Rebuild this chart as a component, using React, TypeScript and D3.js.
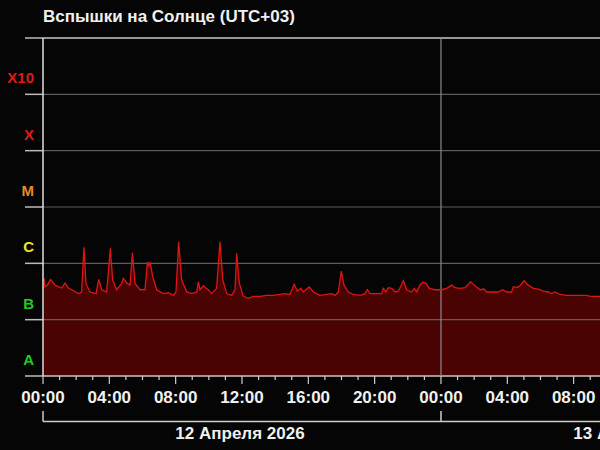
import * as d3 from "d3";
import { useEffect, useRef } from "react";

// hours since 00:00, 12 April 2026 (UTC+03)
const hours = [
  0.06, 0.12, 0.26, 0.46, 0.72, 1.13, 1.33, 1.53, 1.83, 2.13, 2.33, 2.47, 2.59, 2.83, 3.2, 3.36, 3.54, 3.84,
  4.06, 4.2, 4.44, 4.75, 4.84, 5.08, 5.25, 5.39, 5.55, 5.85, 6.15, 6.3, 6.38, 6.45, 6.62, 6.86, 7.25, 7.56,
  7.86, 8.02, 8.18, 8.36, 8.67, 8.97, 9.27, 9.37, 9.47, 9.67, 9.83, 9.97, 10.17, 10.47, 10.67, 10.84, 11.08,
  11.38, 11.58, 11.68, 11.84, 12.08, 12.38, 12.68, 13.09, 13.49, 13.89, 14.29, 14.59, 14.89, 15.15, 15.34,
  15.54, 15.7, 15.84, 16.06, 16.3, 16.7, 17.11, 17.41, 17.61, 17.81, 17.99, 18.15, 18.41, 18.71, 19.12,
  19.42, 19.56, 19.72, 20.12, 20.42, 20.52, 20.68, 20.82, 21.03, 21.23, 21.43, 21.73, 21.93, 22.23, 22.39,
  22.54, 22.73, 22.9, 23.1, 23.29, 23.64, 24.04, 24.34, 24.65, 24.85, 25.15, 25.45, 25.79, 26.05, 26.35,
  26.59, 26.76, 27.15, 27.46, 27.72, 27.96, 28.26, 28.36, 28.57, 28.76, 29.02, 29.26, 29.57, 29.87, 30.17,
  30.47, 30.67, 30.87, 31.18, 31.58, 31.98, 32.38, 32.79, 32.99, 33.59,
];

// X-ray flux, in units of 1e-7 W/m² (B-class)
const fluxB = [
  5.4, 3.8, 4.1, 5.2, 4.1, 3.65, 4.5, 3.65, 3.3, 2.9, 3.1, 19.3, 4.4, 3.1, 2.9, 5.2, 3.4, 3.1,
  18.5, 5.1, 3.4, 4.4, 5.4, 4.4, 4.1, 15.4, 4.4, 3.4, 3.4, 10.5, 9.0, 10.6, 5.8, 3.4, 2.9, 3.0,
  2.7, 3.1, 24.2, 5.1, 3.1, 2.9, 3.1, 4.7, 3.4, 4.0, 3.6, 3.4, 2.9, 3.6, 24.2, 5.1, 2.9,
  2.7, 3.4, 15.1, 4.4, 2.6, 2.4, 2.6, 2.6, 2.7, 2.7, 2.8, 2.9, 2.8, 4.25, 3.2,
  3.6, 3.1, 3.4, 3.8, 3.1, 2.7, 2.8, 2.9, 2.7, 3.1, 7.3, 4.1, 3.1, 2.8, 2.7,
  2.9, 3.4, 2.9, 2.9, 2.9, 3.6, 3.1, 3.7, 3.6, 3.1, 3.2, 4.9, 3.4, 3.1, 3.6,
  3.1, 4.1, 4.6, 4.4, 3.6, 3.4, 3.4, 3.6, 4.1, 3.7, 3.6, 3.7, 4.7, 4.0, 3.4,
  3.5, 3.1, 3.1, 3.1, 3.4, 3.1, 3.1, 3.85, 3.7, 4.0, 4.9, 4.1, 3.6, 3.5, 3.2,
  3.1, 2.9, 3.1, 2.8, 2.7, 2.7, 2.7, 2.7, 2.6, 2.6,
];

const levelLabels = ["A", "B", "C", "M", "X", "X10"];
const levelColors = ["#22cc22", "#22cc22", "#e6e62a", "#e68a2a", "#e01818", "#e01818"];
const dayLabels = ["12 Апреля 2026", "13 Апреля 2026"];

const App = () => {
  const ref = useRef<SVGSVGElement | null>(null);

  useEffect(() => {
    const svg = d3.select(ref.current);
    svg.selectAll("*").remove();

    const width = 600,
      height = 450,
      margin = { top: 38, right: 0, bottom: 74, left: 43 };
    const bottom = height - margin.bottom;
    const font = "'Liberation Sans', Arial, sans-serif";

    const data = hours.map((h, i) => ({ h, f: fluxB[i] * 1e-7 }));

    const x = d3
      .scaleLinear()
      .domain([0, 33.59])
      .range([margin.left, width - margin.right]);
    const y = d3.scaleLog().domain([1e-8, 1e-2]).range([bottom, margin.top]);

    svg.append("rect").attr("width", width).attr("height", height).attr("fill", "#050505");

    svg
      .append("text")
      .attr("x", 43)
      .attr("y", 22)
      .attr("fill", "#f0f0f0")
      .attr("font-family", font)
      .attr("font-weight", "bold")
      .attr("font-size", 17)
      .text("Вспышки на Солнце (UTC+03)");

    const area = d3
      .area<{ h: number; f: number }>()
      .x((d) => x(d.h))
      .y0(bottom)
      .y1((d) => y(d.f));
    const line = d3
      .line<{ h: number; f: number }>()
      .x((d) => x(d.h))
      .y((d) => y(d.f));

    svg.append("path").datum(data).attr("fill", "#4a0303").attr("d", area);

    // level grid lines
    const levels = d3.range(-8, -1).map((p) => Math.pow(10, p));
    levels.forEach((v, i) => {
      const yy = y(v);
      const edge = i === 0 || i === levels.length - 1;
      svg
        .append("line")
        .attr("x1", 25)
        .attr("x2", margin.left)
        .attr("y1", yy)
        .attr("y2", yy)
        .attr("stroke", "#bbbbbb")
        .attr("stroke-width", 1.5);
      svg
        .append("line")
        .attr("x1", margin.left)
        .attr("x2", width)
        .attr("y1", yy)
        .attr("y2", yy)
        .attr("stroke", edge ? "#c8c8c8" : "#5c5c5c")
        .attr("stroke-width", edge ? 1.5 : 1.2);
    });

    levelLabels.forEach((lbl, i) => {
      svg
        .append("text")
        .attr("x", 34)
        .attr("y", y(levels[i]) - 11)
        .attr("text-anchor", "end")
        .attr("fill", levelColors[i])
        .attr("font-family", font)
        .attr("font-weight", "bold")
        .attr("font-size", 15)
        .text(lbl);
    });

    // midnight divider
    svg
      .append("line")
      .attr("x1", x(24))
      .attr("x2", x(24))
      .attr("y1", margin.top)
      .attr("y2", bottom)
      .attr("stroke", "#8a8a8a")
      .attr("stroke-width", 1.2);

    svg
      .append("path")
      .datum(data)
      .attr("fill", "none")
      .attr("stroke", "#dd1515")
      .attr("stroke-width", 1.3)
      .attr("d", line);

    // left axis
    svg
      .append("line")
      .attr("x1", margin.left)
      .attr("x2", margin.left)
      .attr("y1", margin.top)
      .attr("y2", bottom)
      .attr("stroke", "#e0e0e0")
      .attr("stroke-width", 1.5);

    // hourly ticks
    d3.range(0, 34).forEach((h) => {
      const major = h % 4 === 0;
      svg
        .append("line")
        .attr("x1", x(h))
        .attr("x2", x(h))
        .attr("y1", bottom)
        .attr("y2", bottom + (major ? 8 : 4))
        .attr("stroke", "#cccccc")
        .attr("stroke-width", 1.2);
      if (major) {
        svg
          .append("text")
          .attr("x", x(h))
          .attr("y", 403)
          .attr("text-anchor", "middle")
          .attr("fill", "#f0f0f0")
          .attr("font-family", font)
          .attr("font-weight", "bold")
          .attr("font-size", 17)
          .text(`${String(h % 24).padStart(2, "0")}:00`);
      }
    });

    // day bracket
    svg
      .append("line")
      .attr("x1", margin.left)
      .attr("x2", width)
      .attr("y1", 421.5)
      .attr("y2", 421.5)
      .attr("stroke", "#cccccc")
      .attr("stroke-width", 1.5);
    [0, 24].forEach((h, i) => {
      svg
        .append("line")
        .attr("x1", x(h))
        .attr("x2", x(h))
        .attr("y1", 411)
        .attr("y2", 421.5)
        .attr("stroke", "#cccccc")
        .attr("stroke-width", 1.5);
      svg
        .append("text")
        .attr("x", x(h + 12) - 2)
        .attr("y", 439)
        .attr("text-anchor", "middle")
        .attr("fill", "#f0f0f0")
        .attr("font-family", font)
        .attr("font-weight", "bold")
        .attr("font-size", 17)
        .text(dayLabels[i]);
    });
  }, []);

  return (
    <svg
      ref={ref}
      width={600}
      height={450}
      style={{ position: "absolute", left: 0, top: 0, display: "block" }}
    ></svg>
  );
};

export default App;
